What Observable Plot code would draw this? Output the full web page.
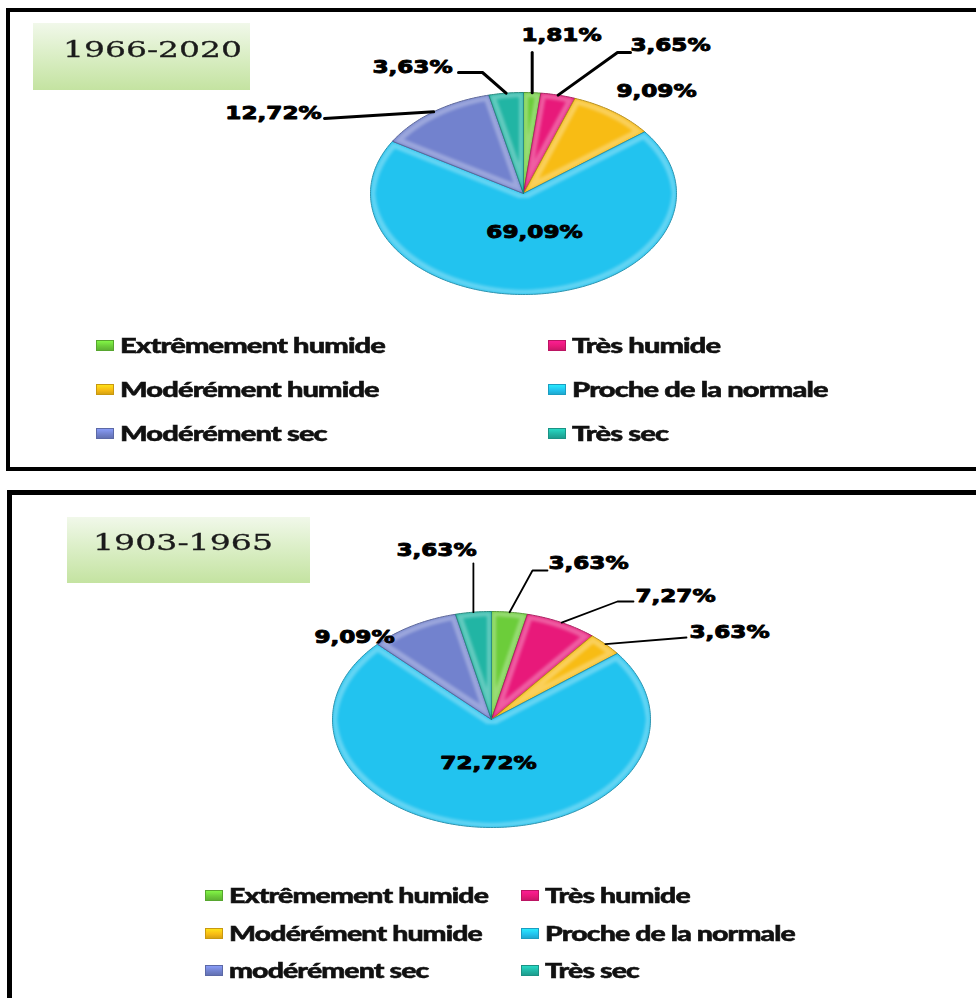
<!DOCTYPE html>
<html>
<head>
<meta charset="utf-8">
<script src="https://cdn.jsdelivr.net/npm/d3@7"></script>
<script src="https://cdn.jsdelivr.net/npm/@observablehq/plot@0.6"></script>
<style>
  body { margin: 0; background: #fff; }
  #page { position: relative; width: 976px; height: 998px; overflow: hidden; background: #fff; }
  .panel { position: absolute; box-sizing: border-box; border-style: solid; border-color: #000; }
  .tbox { position: absolute; background: linear-gradient(to bottom, #f1f8ea 0%, #dcefc8 45%, #c4e3a1 100%); }
  .ttext { position: absolute; font-family: "DejaVu Serif", "Liberation Serif", serif; font-size: 22px; line-height: 22px;
           color: #1b1b1b; white-space: nowrap; transform-origin: left center; -webkit-text-stroke: 0.3px #1b1b1b; }
  .lg { position: absolute; display: flex; align-items: center; height: 22px; white-space: nowrap; }
  .sw { display: inline-block; width: 18px; height: 11px; box-sizing: border-box; flex: none; }
  .lt { display: inline-block; font-family: Lato, "Open Sans", sans-serif; font-weight: 900; font-size: 20px;
        letter-spacing: -0.6px; line-height: 22px; color: #111; transform-origin: left center;
        -webkit-text-stroke: 0.5px #111; }
  .chart { position: absolute; left: 0; }
</style>
</head>
<body>
<svg width="0" height="0" style="position:absolute">
  <defs>
    <!-- soft inner bevel: a light band just inside each slice outline -->
    <filter id="bevel" x="-10%" y="-10%" width="120%" height="120%" color-interpolation-filters="sRGB">
      <feMorphology in="SourceAlpha" operator="erode" radius="1.3" result="e1"/>
      <feMorphology in="SourceAlpha" operator="erode" radius="4.5" result="e2"/>
      <feComposite in="e1" in2="e2" operator="out" result="band"/>
      <feGaussianBlur in="band" stdDeviation="1.4" result="soft"/>
      <feFlood flood-color="#ffffff" flood-opacity="0.3"/>
      <feComposite in2="soft" operator="in" result="hl"/>
      <feComposite in="hl" in2="SourceAlpha" operator="in" result="hl2"/>
      <feMerge><feMergeNode in="SourceGraphic"/><feMergeNode in="hl2"/></feMerge>
    </filter>
  </defs>
</svg>
<div id="page"></div>
<script>
// Drought/wetness classes (SPI-type categories)
const categories = ["Extrêmement humide", "Très humide", "Modérément humide", "Proche de la normale", "Modérément sec", "Très sec"];
const legend1903 = ["Extrêmement humide", "Très humide", "Modérément humide", "Proche de la normale", "modérément sec", "Très sec"];

// share of years in each class (%)
const values1966 = [1.81, 3.65, 9.09, 69.09, 12.72, 3.63];
const values1903 = [3.63, 7.27, 3.63, 72.72, 9.09, 3.63];

const colors = ["#6ccd3a", "#e8197a", "#f8bc14", "#22c3ef", "#7282ce", "#21b5a4"];

// label anchors and leader elbows, in pixels relative to the pie centre
const layout1966 = [
  {label: [38, -158], elbows: [[null, -141]]},
  {label: [147, -148], elbows: [[94, -141], [107, -141]]},
  {label: [133, -102], elbows: []},
  {label: [11, 39], elbows: []},
  {label: [-250, -80], elbows: [[-199, -75]]},
  {label: [-111, -126], elbows: [[-41, -121], [-65, -121]]}
];
const layout1903 = [
  {label: [97, -156], elbows: [[41, -149], [56, -149]]},
  {label: [184, -123], elbows: [[126, -118], [142, -118]]},
  {label: [238, -87], elbows: [[195, -82]]},
  {label: [-3, 44], elbows: []},
  {label: [-137, -82], elbows: []},
  {label: [-55, -169], elbows: [[null, -156]]}
];

const pct = v => v.toFixed(2).replace(".", ",") + "%";
const page = document.getElementById("page");

function el(tag, cls, style, text) {
  const e = document.createElement(tag);
  if (cls) e.className = cls;
  Object.assign(e.style, style || {});
  if (text != null) e.textContent = text;
  return e;
}

function fitWidth(node, target) {
  const w = node.getBoundingClientRect().width;
  const k = target / w;
  node.style.transform = `scaleX(${k})`;
  return k;
}

function piePlot({values, layout, cx, cy, rx, ry, width, height, leaderWidth}) {
  const arcs = d3.pie().sort(null).value(d => d)(values);

  // closed outline of every slice: centre -> arc -> centre
  const slicePts = [];
  arcs.forEach((a, i) => {
    slicePts.push({i, x: 0, y: 0});
    const n = Math.max(3, Math.ceil((a.endAngle - a.startAngle) / (Math.PI / 180)));
    for (let k = 0; k <= n; k++) {
      const t = a.startAngle + (a.endAngle - a.startAngle) * k / n;
      slicePts.push({i, x: Math.sin(t), y: Math.cos(t)});
    }
    slicePts.push({i, x: 0, y: 0});
  });

  // leader lines from the rim at each slice's mid-angle to its label
  const leaderPts = [];
  arcs.forEach((a, i) => {
    const L = layout[i];
    if (!L.elbows.length) return;
    const m = (a.startAngle + a.endAngle) / 2;
    const rim = {i, x: Math.sin(m), y: Math.cos(m)};
    leaderPts.push(rim);
    for (const [dx, dy] of L.elbows) {
      leaderPts.push({i, x: dx == null ? rim.x : dx / rx, y: -dy / ry});
    }
  });

  const labels = arcs.map((a, i) => ({
    text: pct(values[i]),
    x: layout[i].label[0] / rx,
    y: -layout[i].label[1] / ry
  }));

  return Plot.plot({
    width, height,
    margin: 0,
    x: {domain: [-1, 1], range: [cx - rx, cx + rx], axis: null},
    y: {domain: [-1, 1], range: [cy + ry, cy - ry], axis: null},
    color: {type: "identity"},
    style: {background: "transparent", overflow: "visible"},
    marks: [
      Plot.line(slicePts, {
        x: "x", y: "y", z: "i",
        fill: d => colors[d.i],
        stroke: d => d3.color(colors[d.i]).darker(1).formatHex(),
        strokeWidth: 1, strokeLinejoin: "round", curve: "linear"
      }),
      Plot.line(leaderPts, {
        x: "x", y: "y", z: "i",
        stroke: "#000", strokeWidth: leaderWidth, strokeLinejoin: "miter"
      }),
      Plot.text(labels, {
        x: "x", y: "y", text: "text",
        fontFamily: "DejaVu Sans, sans-serif", fontSize: 17, fontWeight: "bold",
        fill: "#000", stroke: "#000", strokeWidth: 0.9,
        textAnchor: "middle", lineAnchor: "middle"
      })
    ]
  });
}

function finishPlot(svg) {
  const lines = svg.querySelectorAll('g[aria-label="line"]');
  lines[0].querySelectorAll("path").forEach(p => p.setAttribute("filter", "url(#bevel)"));
  svg.querySelectorAll('g[aria-label="text"] text').forEach(t => {
    const w = t.getComputedTextLength();
    t.setAttribute("textLength", (w * 1.36).toFixed(1));
    t.setAttribute("lengthAdjust", "spacingAndGlyphs");
  });
}

function legend(names, {cols, rows, gap, fitTarget}) {
  const texts = [];
  names.forEach((name, i) => {
    const row = Math.floor(i / 2), col = i % 2;
    const item = el("div", "lg", {left: cols[col] + "px", top: (rows[row] - 11) + "px"});
    const c = d3.color(colors[i]);
    const sw = el("span", "sw", {
      background: `linear-gradient(to bottom, ${c.brighter(0.6).formatHex()} 0%, ${c.formatHex()} 55%, ${c.darker(0.5).formatHex()} 100%)`,
      boxShadow: `inset 0 0 0 1px ${c.darker(0.6).formatHex()}`,
      marginRight: gap + "px"
    });
    const t = el("span", "lt", {}, name);
    item.append(sw, t);
    page.append(item);
    texts.push(t);
  });
  const k = texts[0].getBoundingClientRect().width;
  const factor = fitTarget / k;
  texts.forEach(t => t.style.transform = `scaleX(${factor})`);
}

// ---- panel frames and period boxes ----
page.append(el("div", "panel", {left: "6px", top: "8px", width: "1000px", height: "463px", borderWidth: "4px"}));
page.append(el("div", "panel", {left: "7px", top: "490px", width: "1000px", height: "600px", borderWidth: "5px"}));

page.append(el("div", "tbox", {left: "33px", top: "23px", width: "217px", height: "67px"}));
page.append(el("div", "tbox", {left: "67px", top: "517px", width: "243px", height: "66px"}));

const t1 = el("span", "ttext", {left: "63px", top: "39px"}, "1966-2020");
const t2 = el("span", "ttext", {left: "93px", top: "532px"}, "1903-1965");
page.append(t1, t2);
fitWidth(t1, 179);
fitWidth(t2, 180);

// ---- pies ----
const pieRecent = piePlot({values: values1966, layout: layout1966, cx: 523, cy: 193, rx: 153, ry: 101,
                           width: 976, height: 300, leaderWidth: 3});
pieRecent.classList.add("chart");
pieRecent.style.top = "0px";
page.append(pieRecent);
finishPlot(pieRecent);

const pieEarly = piePlot({values: values1903, layout: layout1903, cx: 491, cy: 239, rx: 159, ry: 108,
                          width: 976, height: 380, leaderWidth: 1.8});
pieEarly.classList.add("chart");
pieEarly.style.top = "480px";
page.append(pieEarly);
finishPlot(pieEarly);

// ---- legends ----
legend(categories, {cols: [96, 548], rows: [345, 389, 433], gap: 6, fitTarget: 265});
legend(legend1903, {cols: [205, 521], rows: [895, 933, 970], gap: 6, fitTarget: 259});
</script>
</body>
</html>
